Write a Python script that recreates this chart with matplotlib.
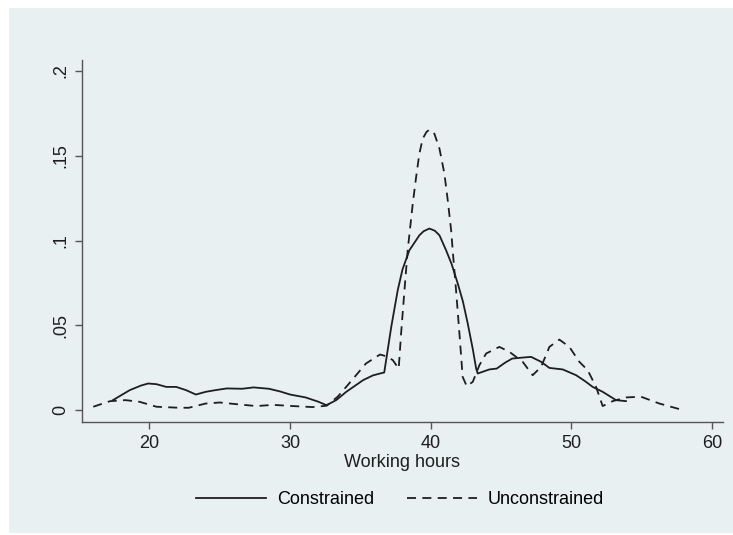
import matplotlib
matplotlib.use('Agg')
from matplotlib import pyplot as plt
from matplotlib.patches import Rectangle

# density of working hours
hours_con = [17.4, 18.6, 19.4, 19.9, 20.5, 21.2, 21.9, 22.6, 23.3, 24.0, 24.7, 25.5,
             26.6, 27.4, 28.5, 29.3, 30.0, 31.1, 32.0, 32.6, 33.3, 34.0, 35.2, 35.9,
             36.4, 36.7, 37.2, 37.66, 38.0, 38.49, 39.2, 39.5, 39.91, 40.3, 40.63,
             41.1, 41.5, 41.93, 42.3, 42.64, 43.0, 43.24, 43.35, 44.18, 44.7, 45.3,
             45.8, 46.55, 47.15, 47.86, 48.45, 49.4, 50.35, 51.0, 51.53, 52.24,
             53.19, 53.9]
dens_con = [0.0059, 0.0118, 0.0145, 0.0157, 0.0153, 0.0137, 0.0137, 0.0118, 0.0092,
            0.0108, 0.0118, 0.0128, 0.0126, 0.0134, 0.0126, 0.0110, 0.0092, 0.0075,
            0.0050, 0.0029, 0.0060, 0.0108, 0.0177, 0.0205, 0.0216, 0.0222, 0.0491,
            0.0707, 0.0830, 0.0943, 0.1031, 0.1055, 0.1071, 0.1058, 0.1031, 0.0943,
            0.0860, 0.0747, 0.0640, 0.0511, 0.0360, 0.0245, 0.0216, 0.0240, 0.0245,
            0.0280, 0.0304, 0.0310, 0.0314, 0.0285, 0.0249, 0.0240, 0.0206, 0.0170,
            0.0137, 0.0108, 0.0059, 0.0053]

hours_unc = [16.0, 17.2, 18.3, 19.3, 20.5, 22.1, 22.8, 24.0, 25.0, 26.2, 27.6, 28.8,
             30.2, 31.6, 32.6, 33.4, 34.2, 35.4, 36.4, 36.83, 37.31, 37.73, 37.9,
             38.14, 38.37, 38.73, 38.97, 39.2, 39.44, 39.7, 39.91, 40.27, 40.63,
             40.98, 41.22, 41.46, 41.57, 41.81, 42.05, 42.28, 42.57, 43.0, 43.47,
             43.95, 44.89, 45.6, 46.55, 47.26, 47.86, 48.45, 49.16, 49.87, 50.58,
             51.17, 51.77, 52.24, 52.95, 53.9, 54.97, 56.27, 57.7]
dens_unc = [0.0020, 0.0053, 0.0059, 0.0049, 0.0020, 0.0014, 0.0014, 0.0039, 0.0045,
            0.0035, 0.0024, 0.0031, 0.0024, 0.0018, 0.0026, 0.0080, 0.0157, 0.0275,
            0.0328, 0.0318, 0.0295, 0.0245, 0.0452, 0.0707, 0.0943, 0.1218, 0.1375,
            0.1513, 0.1601, 0.1640, 0.1654, 0.1630, 0.1542, 0.1395, 0.1237, 0.1061,
            0.0943, 0.0707, 0.0452, 0.0196, 0.0141, 0.0167, 0.0265, 0.0334, 0.0373,
            0.0344, 0.0285, 0.0206, 0.0255, 0.0373, 0.0416, 0.0373, 0.0285, 0.0236,
            0.0137, 0.0024, 0.0053, 0.0075, 0.0079, 0.0039, 0.0006]

x_ticks = [20, 30, 40, 50, 60]
y_ticks = [0, 0.05, 0.1, 0.15, 0.2]
y_labels = ['0', '.05', '.1', '.15', '.2']

bg = '#e8f0f2'
ink = '#1e1e1e'
fs = 13

plt.rcParams['font.family'] = ['Liberation Sans', 'DejaVu Sans']

fig = plt.figure(figsize=(7.33, 5.35), dpi=100, facecolor='white')
fig.patches.append(Rectangle((9 / 733, 2 / 535), 1 - 9 / 733, 525 / 535,
                             transform=fig.transFigure, facecolor=bg,
                             edgecolor='none', zorder=-10))

ax = fig.add_axes([82 / 733, 1 - 422 / 535, 641 / 733, 362 / 535])
ax.set_facecolor(bg)
ax.set_zorder(1)

ax.plot(hours_con, dens_con, color=ink, lw=1.3, label='Constrained')
ax.plot(hours_unc, dens_unc, color=ink, lw=1.3, dashes=(5, 3.5),
        label='Unconstrained')

ax.set_xlim(15.2, 60.8)
ax.set_ylim(-0.007, 0.2065)
ax.set_xticks(x_ticks)
ax.set_yticks(y_ticks)
ax.set_yticklabels(y_labels, rotation=90, va='center')

for side in ['top', 'right']:
    ax.spines[side].set_visible(False)
for side in ['left', 'bottom']:
    ax.spines[side].set_color('#555555')
    ax.spines[side].set_linewidth(1.0)
ax.tick_params(length=5, width=1.0, color='#555555', labelsize=fs,
               labelcolor=ink, pad=4)

ax.set_xlabel('Working hours', fontsize=fs, color=ink, labelpad=2)

fig.legend(loc='center', bbox_to_anchor=(400 / 733, 1 - 500 / 535), ncol=2,
           frameon=False, fontsize=fs, handlelength=3.9, columnspacing=1.8,
           handletextpad=0.6)

fig.savefig('out.png', dpi=100, facecolor=fig.get_facecolor())
